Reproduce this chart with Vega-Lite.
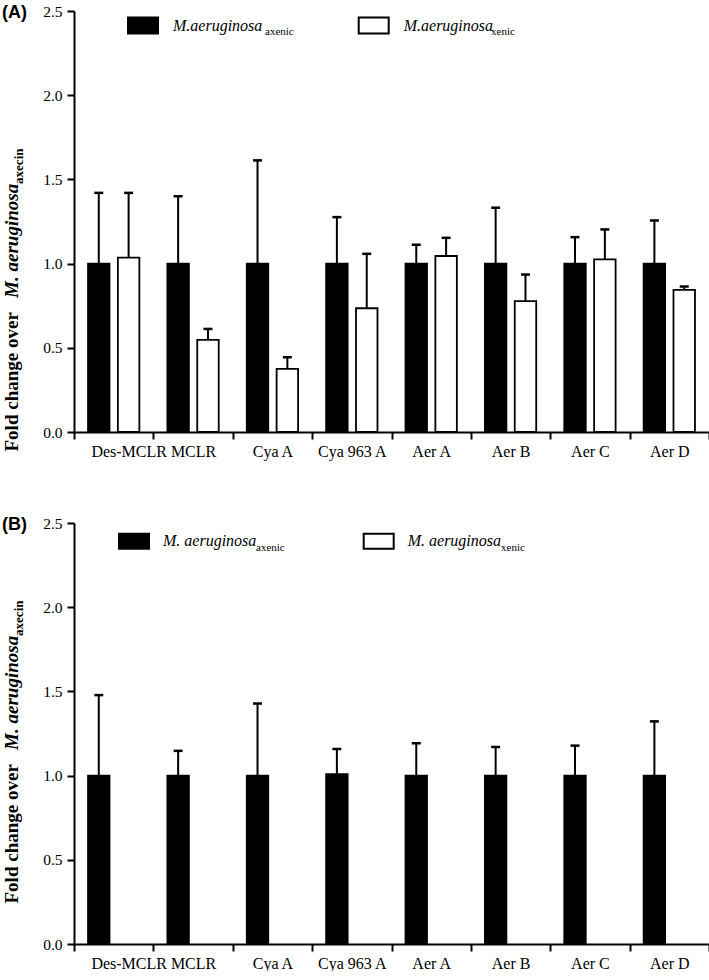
{
  "$schema": "https://vega.github.io/schema/vega-lite/v6.json",
  "padding": {"left": 2, "top": 4, "right": 4, "bottom": 0},
  "spacing": 57,
  "datasets": {
    "a": [
      {"compound": "Des-MCLR", "strain": "axenic", "fold": 1.0, "upper": 1.42},
      {"compound": "Des-MCLR", "strain": "xenic", "fold": 1.035, "upper": 1.42},
      {"compound": "MCLR", "strain": "axenic", "fold": 1.0, "upper": 1.40},
      {"compound": "MCLR", "strain": "xenic", "fold": 0.547, "upper": 0.612},
      {"compound": "Cya A", "strain": "axenic", "fold": 1.0, "upper": 1.613},
      {"compound": "Cya A", "strain": "xenic", "fold": 0.375, "upper": 0.444},
      {"compound": "Cya 963 A", "strain": "axenic", "fold": 1.0, "upper": 1.276},
      {"compound": "Cya 963 A", "strain": "xenic", "fold": 0.735, "upper": 1.058},
      {"compound": "Aer A", "strain": "axenic", "fold": 1.0, "upper": 1.112},
      {"compound": "Aer A", "strain": "xenic", "fold": 1.045, "upper": 1.153},
      {"compound": "Aer B", "strain": "axenic", "fold": 1.0, "upper": 1.332},
      {"compound": "Aer B", "strain": "xenic", "fold": 0.777, "upper": 0.935},
      {"compound": "Aer C", "strain": "axenic", "fold": 1.0, "upper": 1.157},
      {"compound": "Aer C", "strain": "xenic", "fold": 1.025, "upper": 1.203},
      {"compound": "Aer D", "strain": "axenic", "fold": 1.0, "upper": 1.256},
      {"compound": "Aer D", "strain": "xenic", "fold": 0.844, "upper": 0.864}
    ],
    "b": [
      {"compound": "Des-MCLR", "strain": "axenic", "fold": 1.0, "upper": 1.478},
      {"compound": "MCLR", "strain": "axenic", "fold": 1.0, "upper": 1.147},
      {"compound": "Cya A", "strain": "axenic", "fold": 1.0, "upper": 1.428},
      {"compound": "Cya 963 A", "strain": "axenic", "fold": 1.009, "upper": 1.158},
      {"compound": "Aer A", "strain": "axenic", "fold": 1.0, "upper": 1.192},
      {"compound": "Aer B", "strain": "axenic", "fold": 1.0, "upper": 1.170},
      {"compound": "Aer C", "strain": "axenic", "fold": 1.0, "upper": 1.178},
      {"compound": "Aer D", "strain": "axenic", "fold": 1.0, "upper": 1.322}
    ]
  },
  "vconcat": [
    {
      "width": 635,
      "height": 421,
      "title": {"text": "(A)", "anchor": "start", "frame": "bounds", "font": "Liberation Sans", "fontWeight": "bold", "fontSize": 18, "color": "black", "offset": -18},
      "data": {"name": "a"},
      "encoding": {
        "x": {"field": "compound", "type": "nominal", "sort": ["Des-MCLR", "MCLR", "Cya A", "Cya 963 A", "Aer A", "Aer B", "Aer C", "Aer D"], "scale": {"paddingInner": 0, "paddingOuter": 0},
          "axis": {"title": null, "labelAngle": 0, "tickBand": "extent", "tickSize": 7, "tickWidth": 2, "domainWidth": 2, "labelFontSize": 16, "labelPadding": 4,
            "labelOffset": {"condition": {"test": "datum.value === 'Des-MCLR'", "value": 15}, "value": 0}}},
        "xOffset": {"field": "strain", "type": "nominal", "scale": {"domain": ["axenic", "xenic"], "paddingInner": 0.28, "paddingOuter": 0.47}}
      },
      "layer": [
        {
          "mark": {"type": "bar", "stroke": "black", "strokeWidth": 1.8},
          "encoding": {
            "y": {"field": "fold", "type": "quantitative", "scale": {"domain": [0, 2.5]},
              "axis": {"values": [0, 0.5, 1, 1.5, 2, 2.5], "format": ".1f", "tickSize": 7, "tickWidth": 2, "domainWidth": 2, "labelFontSize": 15.5, "labelPadding": 5, "orient": "left",
                "title": "Fold change over ", "titleFontSize": 19, "titleFontWeight": "bold", "titleAngle": -90, "titleAlign": "left", "titleBaseline": "alphabetic", "titleX": -57, "titleY": 440}},
            "fill": {"field": "strain", "type": "nominal", "scale": {"domain": ["axenic", "xenic"], "range": ["black", "white"]},
              "legend": {"orient": "none", "legendX": 53, "legendY": -1.5, "direction": "horizontal", "title": null, "padding": 0,
                "symbolType": "M-1,-0.533H1V0.533H-1Z", "symbolSize": 900, "symbolStrokeColor": "black", "symbolStrokeWidth": 2,
                "labelFont": "Liberation Serif", "labelFontStyle": "italic", "labelFontSize": 16, "labelOffset": 14, "columnPadding": 91.7, "labelExpr": "'M.aeruginosa'"}}
          }
        },
        {
          "mark": {"type": "rule", "color": "black", "strokeWidth": 2},
          "encoding": {
            "y": {"field": "fold", "type": "quantitative", "scale": {"domain": [0, 2.5]},
              "axis": {"orient": "left", "labels": false, "ticks": false, "domain": false, "title": "M. aeruginosa", "titleFontSize": 19, "titleFontWeight": "bold", "titleFontStyle": "italic", "titleAngle": -90, "titleAlign": "left", "titleBaseline": "alphabetic", "titleX": -57, "titleY": 286.4}},
            "y2": {"field": "upper"}
          }
        },
        {
          "mark": {"type": "tick", "color": "black", "size": 9, "thickness": 2.5},
          "encoding": {
            "y": {"field": "upper", "type": "quantitative", "scale": {"domain": [0, 2.5]},
              "axis": {"orient": "left", "labels": false, "ticks": false, "domain": false, "title": "axecin", "titleFontSize": 13, "titleFontWeight": "bold", "titleAngle": -90, "titleAlign": "left", "titleBaseline": "alphabetic", "titleX": -52, "titleY": 172.4}},
            "opacity": {"field": "strain", "type": "nominal", "scale": {"domain": ["xenic", "axenic"], "range": [1, 1]},
              "legend": {"orient": "none", "legendX": 180, "legendY": 15, "direction": "horizontal", "title": null, "padding": 0, "values": ["axenic", "xenic"],
                "symbolSize": 0, "symbolOpacity": 0, "labelOffset": 0, "labelFont": "Liberation Serif", "labelFontSize": 11, "columnPadding": 186}}
          }
        }
      ],
      "resolve": {"axis": {"y": "independent"}}
    },
    {
      "width": 635,
      "height": 421,
      "title": {"text": "(B)", "anchor": "start", "frame": "bounds", "font": "Liberation Sans", "fontWeight": "bold", "fontSize": 18, "color": "black", "offset": -18},
      "data": {"name": "b"},
      "encoding": {
        "x": {"field": "compound", "type": "nominal", "sort": ["Des-MCLR", "MCLR", "Cya A", "Cya 963 A", "Aer A", "Aer B", "Aer C", "Aer D"], "scale": {"paddingInner": 0, "paddingOuter": 0},
          "axis": {"title": null, "labelAngle": 0, "tickBand": "extent", "tickSize": 7, "tickWidth": 2, "domainWidth": 2, "labelFontSize": 16, "labelPadding": 4,
            "labelOffset": {"condition": {"test": "datum.value === 'Des-MCLR'", "value": 15}, "value": 0}}},
        "xOffset": {"field": "strain", "type": "nominal", "scale": {"domain": ["axenic", "xenic"], "paddingInner": 0.28, "paddingOuter": 0.47}}
      },
      "layer": [
        {
          "mark": {"type": "bar", "stroke": "black", "strokeWidth": 1.8},
          "encoding": {
            "y": {"field": "fold", "type": "quantitative", "scale": {"domain": [0, 2.5]},
              "axis": {"values": [0, 0.5, 1, 1.5, 2, 2.5], "format": ".1f", "tickSize": 7, "tickWidth": 2, "domainWidth": 2, "labelFontSize": 15.5, "labelPadding": 5, "orient": "left",
                "title": "Fold change over ", "titleFontSize": 19, "titleFontWeight": "bold", "titleAngle": -90, "titleAlign": "left", "titleBaseline": "alphabetic", "titleX": -57, "titleY": 380}},
            "fill": {"field": "strain", "type": "nominal", "scale": {"domain": ["axenic", "xenic"], "range": ["black", "white"]},
              "legend": {"orient": "none", "legendX": 44, "legendY": 2, "direction": "horizontal", "title": null, "padding": 0,
                "symbolType": "M-1,-0.5H1V0.5H-1Z", "symbolSize": 900, "symbolStrokeColor": "black", "symbolStrokeWidth": 2,
                "labelFont": "Liberation Serif", "labelFontStyle": "italic", "labelFontSize": 16, "labelOffset": 13, "columnPadding": 102.7, "labelExpr": "'M. aeruginosa'"}}
          }
        },
        {
          "mark": {"type": "rule", "color": "black", "strokeWidth": 2},
          "encoding": {
            "y": {"field": "fold", "type": "quantitative", "scale": {"domain": [0, 2.5]},
              "axis": {"orient": "left", "labels": false, "ticks": false, "domain": false, "title": "M. aeruginosa", "titleFontSize": 19, "titleFontWeight": "bold", "titleFontStyle": "italic", "titleAngle": -90, "titleAlign": "left", "titleBaseline": "alphabetic", "titleX": -57, "titleY": 226.4}},
            "y2": {"field": "upper"}
          }
        },
        {
          "mark": {"type": "tick", "color": "black", "size": 9, "thickness": 2.5},
          "encoding": {
            "y": {"field": "upper", "type": "quantitative", "scale": {"domain": [0, 2.5]},
              "axis": {"orient": "left", "labels": false, "ticks": false, "domain": false, "title": "axecin", "titleFontSize": 13, "titleFontWeight": "bold", "titleAngle": -90, "titleAlign": "left", "titleBaseline": "alphabetic", "titleX": -52, "titleY": 112.4}},
            "opacity": {"field": "strain", "type": "nominal", "scale": {"domain": ["xenic", "axenic"], "range": [1, 1]},
              "legend": {"orient": "none", "legendX": 171, "legendY": 19, "direction": "horizontal", "title": null, "padding": 0, "values": ["axenic", "xenic"],
                "symbolSize": 0, "symbolOpacity": 0, "labelOffset": 0, "labelFont": "Liberation Serif", "labelFontSize": 11, "columnPadding": 205}}
          }
        }
      ],
      "resolve": {"axis": {"y": "independent"}}
    }
  ],
  "resolve": {
    "scale": {"x": "independent", "y": "independent", "xOffset": "independent", "fill": "independent", "opacity": "independent"},
    "legend": {"fill": "independent", "opacity": "independent"},
    "axis": {"x": "independent", "y": "independent"}
  },
  "config": {
    "view": {"stroke": null},
    "font": "Liberation Serif",
    "axis": {"grid": false, "domainColor": "black", "tickColor": "black", "labelColor": "black", "titleColor": "black", "labelFont": "Liberation Serif", "titleFont": "Liberation Serif"},
    "legend": {"labelColor": "black"}
  }
}
